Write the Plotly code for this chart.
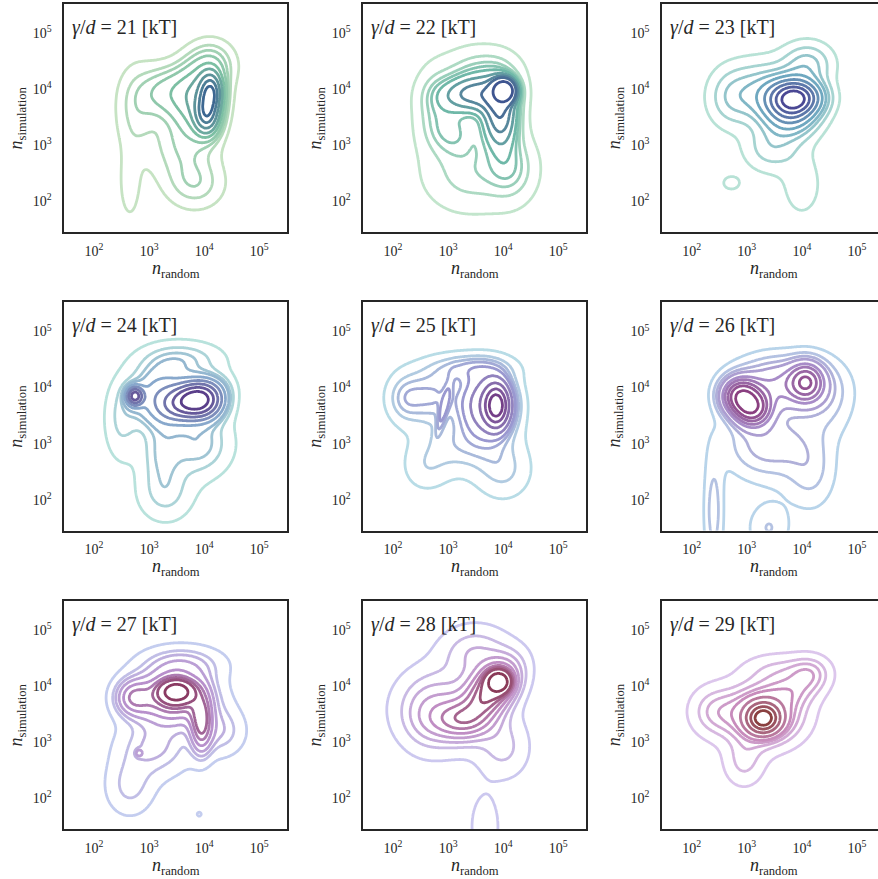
import numpy as np
import plotly.graph_objects as go

# ---------------- data ----------------
gamma_values = [21, 22, 23, 24, 25, 26, 27, 28, 29]
tick_values = [1e2, 1e3, 1e4, 1e5]
tick_labels = ["10<sup>2</sup>", "10<sup>3</sup>", "10<sup>4</sup>", "10<sup>5</sup>"]

# density components, in log10 units:
# (log10 n_random, log10 n_simulation, spread_x, spread_y, correlation, weight)
comps_21 = [(4.12, 3.95, 0.13, 0.22, 0.0, 0.16), (4.05, 3.55, 0.14, 0.22, 0.0, 0.15),
            (3.90, 3.85, 0.28, 0.40, 0.0, 0.24), (3.35, 3.95, 0.35, 0.30, 0.0, 0.12),
            (3.60, 3.00, 0.40, 0.45, 0.0, 0.12), (2.75, 3.60, 0.25, 0.55, 0.0, 0.07),
            (2.65, 2.30, 0.12, 0.40, 0.0, 0.02), (4.15, 4.45, 0.28, 0.28, 0.0, 0.06),
            (3.85, 2.30, 0.35, 0.30, 0.0, 0.06)]
comps_22 = [(4.02, 3.98, 0.13, 0.13, 0.0, 0.11), (3.95, 3.55, 0.22, 0.40, 0.0, 0.22),
            (3.45, 3.90, 0.40, 0.22, 0.0, 0.18), (3.10, 3.25, 0.32, 0.30, 0.0, 0.07),
            (3.60, 4.30, 0.45, 0.30, 0.0, 0.10), (3.40, 2.50, 0.55, 0.45, 0.0, 0.16),
            (2.75, 3.70, 0.25, 0.45, 0.0, 0.06), (4.15, 2.60, 0.30, 0.40, 0.0, 0.08)]
comps_23 = [(3.90, 3.86, 0.30, 0.20, 0.0, 0.24), (3.80, 3.65, 0.32, 0.30, 0.0, 0.26),
            (3.30, 3.95, 0.40, 0.35, 0.0, 0.15), (2.70, 3.85, 0.28, 0.35, 0.0, 0.06),
            (2.72, 2.33, 0.14, 0.11, 0.0, 0.0045), (4.00, 2.30, 0.25, 0.40, 0.0, 0.035),
            (4.10, 4.45, 0.30, 0.25, 0.0, 0.07), (3.45, 2.95, 0.33, 0.28, 0.0, 0.06)]
comps_24 = [(3.80, 3.80, 0.32, 0.22, 0.3, 0.26), (4.00, 3.70, 0.25, 0.20, 0.0, 0.10),
            (2.74, 3.85, 0.10, 0.11, 0.0, 0.035), (3.20, 3.85, 0.35, 0.35, 0.0, 0.18),
            (3.20, 2.85, 0.25, 0.40, 0.0, 0.05), (3.30, 2.10, 0.35, 0.35, 0.0, 0.06),
            (3.90, 3.00, 0.40, 0.40, 0.0, 0.12), (2.50, 3.40, 0.22, 0.50, 0.0, 0.05),
            (3.60, 4.50, 0.50, 0.22, 0.0, 0.07)]
comps_25 = [(3.88, 3.68, 0.13, 0.22, 0.0, 0.22), (3.75, 3.70, 0.30, 0.35, 0.0, 0.30),
            (2.92, 3.62, 0.09, 0.30, 0.8, 0.012), (2.70, 3.85, 0.40, 0.32, 0.0, 0.11),
            (3.30, 3.00, 0.55, 0.35, 0.0, 0.12), (2.60, 2.55, 0.30, 0.30, 0.0, 0.03),
            (4.00, 2.50, 0.35, 0.35, 0.0, 0.06), (3.40, 4.35, 0.50, 0.18, 0.0, 0.07),
            (2.20, 3.80, 0.22, 0.30, 0.0, 0.03)]
comps_26 = [(2.88, 3.85, 0.21, 0.20, 0.0, 0.15), (3.10, 3.63, 0.21, 0.20, 0.0, 0.15),
            (4.08, 4.10, 0.20, 0.22, 0.0, 0.11), (3.60, 4.05, 0.50, 0.30, 0.0, 0.20),
            (3.40, 3.00, 0.50, 0.40, 0.0, 0.14), (4.15, 2.50, 0.30, 0.45, 0.0, 0.05),
            (2.40, 1.80, 0.12, 0.70, 0.0, 0.035), (3.40, 1.50, 0.25, 0.30, 0.0, 0.025),
            (4.40, 3.80, 0.35, 0.45, 0.0, 0.06)]
comps_27 = [(3.50, 3.90, 0.18, 0.12, 0.0, 0.12), (3.95, 3.35, 0.13, 0.35, 0.0, 0.08),
            (3.45, 3.80, 0.45, 0.32, 0.0, 0.30), (2.70, 3.80, 0.22, 0.22, 0.0, 0.06),
            (2.82, 2.81, 0.04, 0.04, 0.0, 0.001), (3.10, 2.90, 0.45, 0.35, 0.0, 0.10),
            (2.65, 2.20, 0.30, 0.35, 0.0, 0.05), (3.60, 4.40, 0.50, 0.22, 0.0, 0.07),
            (3.91, 1.72, 0.03, 0.03, 0.0, 0.0003), (4.30, 3.20, 0.30, 0.30, 0.0, 0.05)]
comps_28 = [(3.92, 4.08, 0.13, 0.12, 0.0, 0.10), (3.80, 3.95, 0.30, 0.32, 0.4, 0.28),
            (3.25, 3.40, 0.35, 0.22, 0.0, 0.12), (3.00, 3.60, 0.55, 0.45, 0.0, 0.22),
            (3.67, 1.50, 0.20, 0.45, 0.0, 0.025), (3.50, 4.60, 0.40, 0.30, 0.0, 0.08),
            (4.00, 2.90, 0.30, 0.35, 0.0, 0.05), (2.60, 3.50, 0.30, 0.40, 0.0, 0.05)]
comps_29 = [(3.30, 3.43, 0.18, 0.16, 0.0, 0.25), (3.30, 3.50, 0.45, 0.35, 0.0, 0.37),
            (4.15, 4.20, 0.25, 0.22, 0.0, 0.05), (3.80, 3.90, 0.30, 0.20, 0.0, 0.04),
            (2.95, 2.65, 0.25, 0.30, 0.0, 0.05), (2.40, 3.55, 0.30, 0.30, 0.0, 0.07),
            (3.60, 4.30, 0.45, 0.20, 0.0, 0.05)]

panel_components = [comps_21, comps_22, comps_23, comps_24, comps_25,
                    comps_26, comps_27, comps_28, comps_29]

# ---------------- styles ----------------
light_colors = ["#c6e3c3", "#c2e5cc", "#b8e2d6", "#b8e2dc", "#b8dce6",
                "#b8d4ea", "#c4cdef", "#ccc8ef", "#dcc6ec"]
mid_colors = ["#7cbfa3", "#6fb8a8", "#6fa8c0", "#88a8cc", "#9a98d0",
              "#a88cc8", "#b890cc", "#c08ec4", "#c88cbc"]
dark_colors = ["#3d6791", "#3e5590", "#4a4894", "#5a3f8a", "#743f88",
               "#8a3f80", "#8a3a62", "#8a3a58", "#8a4040"]

W, H = 878, 879
col_left = [64.3, 363.3, 662.0]
row_top = [4.0, 302.3, 601.0]
panel_w, panel_h = 223.0, 228.3
x_lo, px_per_dec_x = 1.46, 55.06
y_range = [1.45, 5.52]
font_family = "Liberation Serif"
text_color = "#262626"

# seaborn-like iso-proportion levels
thresh, n_levels = 0.05, 10
level_step = (1 - thresh) / (n_levels - 1)

big = np.linspace(0.0, 7.0, 351)
BX, BY = np.meshgrid(big, big)
view_mask = (big >= 1.2) & (big <= 5.8)
view = big[view_mask]


def density(comps):
    d = np.zeros_like(BX)
    for cx, cy, sx, sy, rho, w in comps:
        u = (BX - cx) / sx
        v = (BY - cy) / sy
        q = (u * u - 2 * rho * u * v + v * v) / (1 - rho * rho)
        d += w / (2 * np.pi * sx * sy * np.sqrt(1 - rho * rho)) * np.exp(-0.5 * q)
    return d


def iso_proportion(d):
    flat = d.ravel()
    order = np.argsort(flat)
    cum = np.cumsum(flat[order])
    cum /= cum[-1]
    out = np.empty_like(flat)
    out[order] = cum
    return out.reshape(d.shape)


fig = go.Figure()
layout = dict(width=W, height=H, margin=dict(l=0, r=0, t=0, b=0),
              paper_bgcolor="white", plot_bgcolor="white", showlegend=False,
              annotations=[])

for i, (g, comps) in enumerate(zip(gamma_values, panel_components)):
    r, c = divmod(i, 3)
    left = col_left[c]
    right = min(left + panel_w, W)
    top = row_top[r]
    bottom = top + panel_h
    sfx = "" if i == 0 else str(i + 1)

    F = iso_proportion(density(comps))
    Fv = np.round(F[np.ix_(view_mask, view_mask)], 4)

    fig.add_trace(go.Contour(
        x=(10 ** view).tolist(), y=(10 ** view).tolist(), z=Fv.tolist(),
        xaxis="x" + sfx, yaxis="y" + sfx,
        contours=dict(coloring="lines", start=thresh,
                      end=thresh + (n_levels - 2) * level_step + 1e-6, size=level_step),
        colorscale=[[0, light_colors[i]], [0.5, mid_colors[i]], [1, dark_colors[i]]],
        zmin=thresh, zmax=thresh + (n_levels - 2) * level_step, zauto=False,
        line=dict(width=2.8, smoothing=1), showscale=False, hoverinfo="skip"))

    axfont = dict(family=font_family, size=14, color=text_color)
    layout["xaxis" + sfx] = dict(
        domain=[left / W, right / W], type="log",
        range=[x_lo, x_lo + (right - left) / px_per_dec_x],
        anchor="y" + sfx, showgrid=False, zeroline=False,
        showline=True, linecolor=text_color, linewidth=1.8, mirror=True,
        ticks="", tickvals=tick_values, ticktext=tick_labels,
        tickfont=axfont, ticklabelstandoff=5)
    layout["yaxis" + sfx] = dict(
        domain=[1 - bottom / H, 1 - top / H], type="log", range=y_range,
        anchor="x" + sfx, showgrid=False, zeroline=False,
        showline=True, linecolor=text_color, linewidth=1.8, mirror=(c < 2),
        ticks="", tickvals=tick_values, ticktext=tick_labels,
        tickfont=axfont, ticklabelstandoff=8)

    layout["annotations"] += [
        dict(text=f"<i>γ</i>/<i>d</i> = {g} [kT]", x=(left + 6) / W, y=1 - (top + 10) / H,
             xref="paper", yref="paper", xanchor="left", yanchor="top", showarrow=False,
             font=dict(family=font_family, size=20, color=text_color)),
        dict(text="<i>n</i><sub>random</sub>", x=(left + panel_w / 2) / W,
             y=1 - (bottom + 37) / H, xref="paper", yref="paper",
             xanchor="center", yanchor="middle", showarrow=False,
             font=dict(family=font_family, size=18, color=text_color)),
        dict(text="<i>n</i><sub>simulation</sub>", x=(left - 47) / W,
             y=1 - (top + panel_h / 2) / H, xref="paper", yref="paper",
             xanchor="center", yanchor="middle", textangle=-90, showarrow=False,
             font=dict(family=font_family, size=18, color=text_color)),
    ]

fig.update_layout(**layout)
fig.write_html("out.html")
